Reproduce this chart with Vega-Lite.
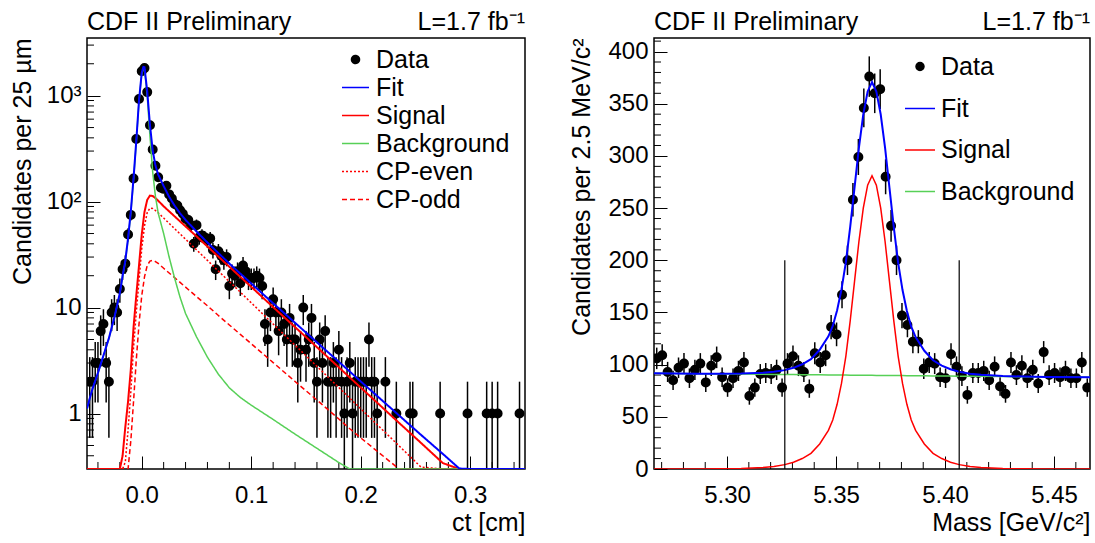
{
  "$schema": "https://vega.github.io/schema/vega-lite/v6.json",
  "padding": {"left": 9, "top": 9, "right": 4, "bottom": 4},
  "background": "white",
  "spacing": 129,
  "bounds": "flush",
  "resolve": {
    "scale": {"x": "independent", "y": "independent", "fill": "independent", "stroke": "independent", "shape": "independent", "size": "independent", "strokeDash": "independent"},
    "legend": {"fill": "independent", "stroke": "independent", "shape": "independent", "size": "independent", "strokeDash": "independent"}
  },
  "config": {
    "font": "Liberation Sans",
    "view": {"stroke": "black", "strokeWidth": 1.5},
    "axis": {"domain": false, "grid": false, "labelFontSize": 24, "labelColor": "black", "labelFont": "Liberation Sans", "titleFont": "Liberation Sans", "titleFontSize": 25, "titleFontWeight": "normal", "titleColor": "black", "tickColor": "black", "tickWidth": 1, "labelFlush": false, "labelOverlap": false},
    "legend": {"labelFont": "Liberation Sans", "labelFontSize": 25, "labelColor": "black"}
  },
  "datasets": {
    "ctdata": [
      {"ct":-0.0475,"n":2,"err":1.41},{"ct":-0.045,"n":2,"err":1.41},{"ct":-0.0425,"n":3,"err":1.73},{"ct":-0.04,"n":3,"err":1.73},
      {"ct":-0.0375,"n":6,"err":2.45},{"ct":-0.035,"n":7,"err":2.65},{"ct":-0.0325,"n":3,"err":1.73},{"ct":-0.03,"n":2,"err":1.41},
      {"ct":-0.0275,"n":9,"err":3},{"ct":-0.025,"n":10,"err":3.16},{"ct":-0.0225,"n":9,"err":3},{"ct":-0.02,"n":15,"err":3.87},
      {"ct":-0.0175,"n":23,"err":4.8},{"ct":-0.015,"n":26,"err":5.1},{"ct":-0.0125,"n":49,"err":7},{"ct":-0.01,"n":75,"err":8.66},
      {"ct":-0.0075,"n":165,"err":12.85},{"ct":-0.005,"n":390,"err":19.75},{"ct":-0.0025,"n":930,"err":30.5},{"ct":0,"n":1700,"err":41.23},
      {"ct":0.0025,"n":1820,"err":42.66},{"ct":0.005,"n":1080,"err":32.86},{"ct":0.0075,"n":525,"err":22.91},{"ct":0.01,"n":310,"err":17.61},
      {"ct":0.0125,"n":218,"err":14.76},{"ct":0.015,"n":170,"err":13.04},{"ct":0.0175,"n":135,"err":11.62},{"ct":0.02,"n":132,"err":11.49},
      {"ct":0.0225,"n":141,"err":11.87},{"ct":0.025,"n":117,"err":10.82},{"ct":0.0275,"n":107,"err":10.34},{"ct":0.03,"n":95,"err":9.75},
      {"ct":0.0325,"n":92,"err":9.59},{"ct":0.035,"n":83,"err":9.11},{"ct":0.0375,"n":77,"err":8.77},{"ct":0.04,"n":69,"err":8.31},
      {"ct":0.0425,"n":67,"err":8.19},{"ct":0.045,"n":60,"err":7.75},{"ct":0.0475,"n":40,"err":6.32},{"ct":0.05,"n":60,"err":7.75},
      {"ct":0.0525,"n":46,"err":6.78},{"ct":0.055,"n":48,"err":6.93},{"ct":0.0575,"n":46,"err":6.78},{"ct":0.06,"n":43,"err":6.56},
      {"ct":0.0625,"n":45,"err":6.71},{"ct":0.065,"n":35,"err":5.92},{"ct":0.0675,"n":23,"err":4.8},{"ct":0.07,"n":34,"err":5.83},
      {"ct":0.0725,"n":31,"err":5.57},{"ct":0.075,"n":28,"err":5.29},{"ct":0.0775,"n":30,"err":5.48},{"ct":0.08,"n":16,"err":4},
      {"ct":0.0825,"n":21,"err":4.58},{"ct":0.085,"n":20,"err":4.47},{"ct":0.0875,"n":22,"err":4.69},{"ct":0.09,"n":17,"err":4.12},
      {"ct":0.0925,"n":25,"err":5},{"ct":0.095,"n":22,"err":4.69},{"ct":0.0975,"n":19,"err":4.36},{"ct":0.1,"n":19,"err":4.36},
      {"ct":0.1025,"n":19,"err":4.36},{"ct":0.105,"n":20,"err":4.47},{"ct":0.1075,"n":19,"err":4.36},{"ct":0.11,"n":16,"err":4},
      {"ct":0.1125,"n":7,"err":2.65},{"ct":0.115,"n":5,"err":2.24},{"ct":0.1175,"n":9,"err":3},{"ct":0.12,"n":12,"err":3.46},
      {"ct":0.1225,"n":9,"err":3},{"ct":0.125,"n":6,"err":2.45},{"ct":0.1275,"n":9,"err":3},{"ct":0.13,"n":7,"err":2.65},
      {"ct":0.1325,"n":5,"err":2.24},{"ct":0.135,"n":8,"err":2.83},{"ct":0.1375,"n":5,"err":2.24},{"ct":0.14,"n":5,"err":2.24},
      {"ct":0.1425,"n":3,"err":1.73},{"ct":0.145,"n":4,"err":2},{"ct":0.1475,"n":10,"err":3.16},{"ct":0.15,"n":4,"err":2},
      {"ct":0.1525,"n":5,"err":2.24},{"ct":0.155,"n":8,"err":2.83},{"ct":0.1575,"n":3,"err":1.73},{"ct":0.16,"n":2,"err":1.41},
      {"ct":0.1625,"n":5,"err":2.24},{"ct":0.165,"n":3,"err":1.73},{"ct":0.1675,"n":6,"err":2.45},{"ct":0.17,"n":2,"err":1.41},
      {"ct":0.1725,"n":2,"err":1.41},{"ct":0.175,"n":3,"err":1.73},{"ct":0.1775,"n":2,"err":1.41},{"ct":0.18,"n":4,"err":2},
      {"ct":0.1825,"n":2,"err":1.41},{"ct":0.185,"n":1,"err":1},{"ct":0.1875,"n":2,"err":1.41},{"ct":0.19,"n":3,"err":1.73},
      {"ct":0.1925,"n":1,"err":1},{"ct":0.195,"n":2,"err":1.41},{"ct":0.1975,"n":2,"err":1.41},{"ct":0.2,"n":2,"err":1.41},
      {"ct":0.2025,"n":2,"err":1.41},{"ct":0.205,"n":2,"err":1.41},{"ct":0.2075,"n":5,"err":2.24},{"ct":0.21,"n":2,"err":1.41},
      {"ct":0.2125,"n":2,"err":1.41},{"ct":0.215,"n":1,"err":1},{"ct":0.2225,"n":2,"err":1.41},{"ct":0.2325,"n":1,"err":1},
      {"ct":0.245,"n":1,"err":1},{"ct":0.2475,"n":1,"err":1},{"ct":0.2725,"n":1,"err":1},{"ct":0.2975,"n":1,"err":1},
      {"ct":0.315,"n":1,"err":1},{"ct":0.32,"n":1,"err":1},{"ct":0.325,"n":1,"err":1},{"ct":0.345,"n":1,"err":1}
    ],
    "ctcurve": [
      {"ct":-0.05,"S":0.01,"E":0.01,"O":0.01,"B":1.1,"F":1.11},
      {"ct":-0.0475,"S":0.01,"E":0.01,"O":0.01,"B":1.38,"F":1.39},
      {"ct":-0.045,"S":0.01,"E":0.01,"O":0.01,"B":1.7,"F":1.71},
      {"ct":-0.04,"S":0.02,"E":0.01,"O":0.01,"B":2.4,"F":2.42},
      {"ct":-0.035,"S":0.03,"E":0.01,"O":0.01,"B":3.5,"F":3.53},
      {"ct":-0.03,"S":0.05,"E":0.02,"O":0.01,"B":5.1,"F":5.15},
      {"ct":-0.025,"S":0.1,"E":0.04,"O":0.02,"B":8,"F":8.1},
      {"ct":-0.02,"S":0.2,"E":0.1,"O":0.04,"B":13.5,"F":13.7},
      {"ct":-0.0175,"S":0.4,"E":0.18,"O":0.07,"B":19.5,"F":19.9},
      {"ct":-0.015,"S":0.75,"E":0.35,"O":0.12,"B":27,"F":27.75},
      {"ct":-0.0125,"S":1.3,"E":0.7,"O":0.25,"B":44,"F":45.3},
      {"ct":-0.01,"S":2.6,"E":1.6,"O":0.55,"B":78,"F":80.6},
      {"ct":-0.0075,"S":6.5,"E":4.2,"O":1.3,"B":160,"F":166.5},
      {"ct":-0.005,"S":13,"E":9,"O":3.2,"B":360,"F":373},
      {"ct":-0.0025,"S":25,"E":18,"O":7,"B":880,"F":905},
      {"ct":0,"S":49,"E":36,"O":13,"B":1600,"F":1649},
      {"ct":0.0015,"S":66,"E":48,"O":16.5,"B":1800,"F":1866},
      {"ct":0.0025,"S":80,"E":59,"O":19.5,"B":1770,"F":1850},
      {"ct":0.005,"S":104,"E":79,"O":25,"B":995,"F":1099},
      {"ct":0.0075,"S":114,"E":87,"O":27.5,"B":415,"F":529},
      {"ct":0.01,"S":113,"E":86,"O":28,"B":190,"F":303},
      {"ct":0.0125,"S":108,"E":82.5,"O":27.2,"B":112,"F":220},
      {"ct":0.015,"S":102,"E":78.5,"O":26.1,"B":78,"F":180},
      {"ct":0.02,"S":90.4,"E":70,"O":23.5,"B":50,"F":140.4},
      {"ct":0.025,"S":81,"E":62.4,"O":21.2,"B":30,"F":111},
      {"ct":0.03,"S":72.6,"E":55.6,"O":19.2,"B":19,"F":91.6},
      {"ct":0.035,"S":65.1,"E":49.6,"O":17.3,"B":12.5,"F":77.6},
      {"ct":0.04,"S":58.4,"E":44.2,"O":15.6,"B":8.8,"F":67.2},
      {"ct":0.05,"S":47,"E":35.1,"O":12.7,"B":5.3,"F":52.3},
      {"ct":0.06,"S":37.7,"E":27.9,"O":10.4,"B":3.4,"F":41.1},
      {"ct":0.07,"S":30.3,"E":22.1,"O":8.42,"B":2.35,"F":32.65},
      {"ct":0.08,"S":24.3,"E":17.6,"O":6.86,"B":1.75,"F":26.05},
      {"ct":0.09,"S":19.5,"E":14,"O":5.59,"B":1.42,"F":20.92},
      {"ct":0.1,"S":15.7,"E":11.1,"O":4.56,"B":1.2,"F":16.9},
      {"ct":0.12,"S":10.1,"E":7,"O":3.03,"B":0.88,"F":10.98},
      {"ct":0.14,"S":6.55,"E":4.42,"O":2.01,"B":0.64,"F":7.19},
      {"ct":0.16,"S":4.23,"E":2.79,"O":1.34,"B":0.47,"F":4.7},
      {"ct":0.18,"S":2.73,"E":1.76,"O":0.89,"B":0.345,"F":3.08},
      {"ct":0.19,"S":2.19,"E":1.4,"O":0.72,"B":0.3,"F":2.49},
      {"ct":0.2,"S":1.76,"E":1.11,"O":0.59,"B":0.25,"F":2.01},
      {"ct":0.235,"S":0.817,"E":0.496,"O":0.287,"B":0.14,"F":0.96},
      {"ct":0.25,"S":0.59,"E":0.351,"O":0.21,"B":0.11,"F":0.7},
      {"ct":0.255,"S":0.529,"E":0.313,"O":0.19,"B":0.1,"F":0.63},
      {"ct":0.275,"S":0.341,"E":0.197,"O":0.126,"B":0.075,"F":0.416},
      {"ct":0.29,"S":0.245,"E":0.139,"O":0.093,"B":0.058,"F":0.303},
      {"ct":0.3,"S":0.198,"E":0.111,"O":0.076,"B":0.05,"F":0.248},
      {"ct":0.35,"S":0.066,"E":0.035,"O":0.027,"B":0.02,"F":0.086}
    ],
    "mdata": [
      {"m":5.26775,"n":106,"err":10.3},{"m":5.27025,"n":109,"err":10.44},{"m":5.27275,"n":93,"err":9.64},{"m":5.27525,"n":85,"err":9.22},
      {"m":5.27775,"n":97,"err":9.85},{"m":5.28025,"n":101,"err":10.05},{"m":5.28275,"n":87,"err":9.33},{"m":5.28525,"n":95,"err":9.75},
      {"m":5.28775,"n":101,"err":10.05},{"m":5.29025,"n":83,"err":9.11},{"m":5.29275,"n":99,"err":9.95},{"m":5.29525,"n":107,"err":10.34},
      {"m":5.29775,"n":88,"err":9.38},{"m":5.30025,"n":78,"err":8.83},{"m":5.30275,"n":87,"err":9.33},{"m":5.30525,"n":94,"err":9.7},
      {"m":5.30775,"n":102,"err":10.1},{"m":5.31025,"n":70,"err":8.37},{"m":5.31275,"n":78,"err":8.83},{"m":5.31525,"n":91,"err":9.54},
      {"m":5.31775,"n":92,"err":9.59},{"m":5.32025,"n":91,"err":9.54},{"m":5.32275,"n":95,"err":9.75},{"m":5.32525,"n":78,"err":8.83},
      {"m":5.32775,"n":101,"err":10.05},{"m":5.33025,"n":108,"err":10.39},{"m":5.33275,"n":99,"err":9.95},{"m":5.33525,"n":93,"err":9.64},
      {"m":5.33775,"n":77,"err":8.77},{"m":5.34025,"n":111,"err":10.54},{"m":5.34275,"n":102,"err":10.1},{"m":5.34525,"n":109,"err":10.44},
      {"m":5.34775,"n":136,"err":11.66},{"m":5.35025,"n":129,"err":11.36},{"m":5.35275,"n":167,"err":12.92},{"m":5.35525,"n":200,"err":14.14},
      {"m":5.35775,"n":258,"err":16.06},{"m":5.36025,"n":299,"err":17.29},{"m":5.36275,"n":346,"err":18.6},{"m":5.36525,"n":376,"err":19.39},
      {"m":5.36775,"n":360,"err":18.97},{"m":5.37025,"n":364,"err":19.08},{"m":5.37275,"n":280,"err":16.73},{"m":5.37525,"n":233,"err":15.26},
      {"m":5.37775,"n":200,"err":14.14},{"m":5.38025,"n":147,"err":12.12},{"m":5.38275,"n":138,"err":11.75},{"m":5.38525,"n":122,"err":11.05},
      {"m":5.38775,"n":122,"err":11.05},{"m":5.39025,"n":96,"err":9.8},{"m":5.39275,"n":102,"err":10.1},{"m":5.39525,"n":101,"err":10.05},
      {"m":5.39775,"n":88,"err":9.38},{"m":5.40025,"n":87,"err":9.33},{"m":5.40275,"n":110,"err":10.49},{"m":5.40525,"n":98,"err":9.9},
      {"m":5.40775,"n":89,"err":9.43},{"m":5.41025,"n":71,"err":8.43},{"m":5.41275,"n":92,"err":9.59},{"m":5.41525,"n":92,"err":9.59},
      {"m":5.41775,"n":94,"err":9.7},{"m":5.42025,"n":85,"err":9.22},{"m":5.42275,"n":98,"err":9.9},{"m":5.42525,"n":79,"err":8.89},
      {"m":5.42775,"n":72,"err":8.49},{"m":5.43025,"n":102,"err":10.1},{"m":5.43275,"n":90,"err":9.49},{"m":5.43525,"n":99,"err":9.95},
      {"m":5.43775,"n":87,"err":9.33},{"m":5.44025,"n":95,"err":9.75},{"m":5.44275,"n":82,"err":9.06},{"m":5.44525,"n":112,"err":10.58},
      {"m":5.44775,"n":90,"err":9.49},{"m":5.45025,"n":92,"err":9.59},{"m":5.45275,"n":88,"err":9.38},{"m":5.45525,"n":94,"err":9.7},
      {"m":5.45775,"n":87,"err":9.33},{"m":5.46025,"n":87,"err":9.33},{"m":5.46275,"n":102,"err":10.1},{"m":5.46525,"n":78,"err":8.83}
    ],
    "mcurve": [
      {"m":5.2665,"S":0,"B":91.7,"F":91.7},{"m":5.2865,"S":0.05,"B":91.31,"F":91.36},{"m":5.2965,"S":0.2,"B":91.12,"F":91.32},
      {"m":5.3065,"S":0.5,"B":90.92,"F":91.42},{"m":5.3165,"S":1.5,"B":90.73,"F":92.23},{"m":5.3215,"S":2.5,"B":90.63,"F":93.13},
      {"m":5.3265,"S":4.2,"B":90.53,"F":94.73},{"m":5.3305,"S":6.5,"B":90.46,"F":96.96},{"m":5.3345,"S":10,"B":90.38,"F":100.38},
      {"m":5.3385,"S":15,"B":90.3,"F":105.3},{"m":5.3425,"S":24,"B":90.22,"F":114.22},{"m":5.3465,"S":37,"B":90.14,"F":127.14},
      {"m":5.3485,"S":47,"B":90.1,"F":137.1},{"m":5.3505,"S":62,"B":90.07,"F":152.07},{"m":5.3525,"S":82,"B":90.03,"F":172.03},
      {"m":5.3545,"S":108,"B":89.99,"F":197.99},{"m":5.3565,"S":142,"B":89.95,"F":231.95},{"m":5.3585,"S":180,"B":89.91,"F":269.91},
      {"m":5.3605,"S":218,"B":89.87,"F":307.87},{"m":5.3625,"S":250,"B":89.83,"F":339.83},{"m":5.3645,"S":272,"B":89.79,"F":361.79},
      {"m":5.3665,"S":281,"B":89.75,"F":370.75},{"m":5.3685,"S":272,"B":89.71,"F":361.71},{"m":5.3705,"S":250,"B":89.67,"F":339.67},
      {"m":5.3725,"S":218,"B":89.63,"F":307.63},{"m":5.3745,"S":180,"B":89.59,"F":269.59},{"m":5.3765,"S":142,"B":89.55,"F":231.55},
      {"m":5.3785,"S":108,"B":89.52,"F":197.52},{"m":5.3805,"S":82,"B":89.48,"F":171.48},{"m":5.3825,"S":62,"B":89.44,"F":151.44},
      {"m":5.3845,"S":47,"B":89.4,"F":136.4},{"m":5.3865,"S":37,"B":89.36,"F":126.36},{"m":5.3905,"S":24,"B":89.28,"F":113.28},
      {"m":5.3945,"S":15,"B":89.2,"F":104.2},{"m":5.3985,"S":10,"B":89.13,"F":99.13},{"m":5.4025,"S":6.5,"B":89.05,"F":95.55},
      {"m":5.4065,"S":4.2,"B":88.97,"F":93.17},{"m":5.4115,"S":2.5,"B":88.87,"F":91.37},{"m":5.4165,"S":1.5,"B":88.78,"F":90.28},
      {"m":5.4265,"S":0.5,"B":88.58,"F":89.08},{"m":5.4365,"S":0.2,"B":88.39,"F":88.59},{"m":5.4465,"S":0.05,"B":88.19,"F":88.24},
      {"m":5.4665,"S":0,"B":87.8,"F":87.8}
    ],
    "mlines": [
      {"m":5.3265,"lo":0,"hi":200},{"m":5.4065,"lo":0,"hi":200}
    ],
    "ctminy": [{"v":0.4},{"v":0.5},{"v":0.6},{"v":0.7},{"v":0.8},{"v":0.9},{"v":2},{"v":3},{"v":4},{"v":5},{"v":6},{"v":7},{"v":8},{"v":9},{"v":20},{"v":30},{"v":40},{"v":50},{"v":60},{"v":70},{"v":80},{"v":90},{"v":200},{"v":300},{"v":400},{"v":500},{"v":600},{"v":700},{"v":800},{"v":900},{"v":2000},{"v":3000}],
    "ctminx": [{"v":-0.04},{"v":-0.02},{"v":0.02},{"v":0.04},{"v":0.06},{"v":0.08},{"v":0.12},{"v":0.14},{"v":0.16},{"v":0.18},{"v":0.22},{"v":0.24},{"v":0.26},{"v":0.28},{"v":0.32},{"v":0.34}],
    "mminy": [{"v":10},{"v":20},{"v":30},{"v":40},{"v":60},{"v":70},{"v":80},{"v":90},{"v":110},{"v":120},{"v":130},{"v":140},{"v":160},{"v":170},{"v":180},{"v":190},{"v":210},{"v":220},{"v":230},{"v":240},{"v":260},{"v":270},{"v":280},{"v":290},{"v":310},{"v":320},{"v":330},{"v":340},{"v":360},{"v":370},{"v":380},{"v":390},{"v":410}],
    "mminx": [{"v":5.27},{"v":5.28},{"v":5.29},{"v":5.31},{"v":5.32},{"v":5.33},{"v":5.34},{"v":5.36},{"v":5.37},{"v":5.38},{"v":5.39},{"v":5.41},{"v":5.42},{"v":5.43},{"v":5.44},{"v":5.46}]
  },
  "hconcat": [
    {
      "width": 438,
      "height": 431,
      "layer": [
        {
          "data": {"name": "ctdata"},
          "mark": {"type": "errorbar", "color": "black", "thickness": 1.5, "clip": true},
          "encoding": {
            "x": {"field": "ct", "type": "quantitative",
              "scale": {"domain": [-0.05, 0.35], "nice": false, "zero": false},
              "axis": {"title": "ct [cm]", "titleAnchor": "end", "titleY": 41, "labelOverlap": false,
                "values": [0, 0.1, 0.2, 0.3], "format": ".1f", "tickSize": -13, "labelPadding": 27}},
            "y": {"field": "n", "type": "quantitative",
              "scale": {"type": "log", "domain": [0.3, 3500], "nice": false, "clamp": true},
              "axis": {"title": "Candidates per 25 µm", "titleAnchor": "end", "titleX": -52, "labelOverlap": false,
                "values": [1, 10, 100, 1000],
                "labelExpr": "datum.value === 1 ? '1' : datum.value === 10 ? '10' : datum.value === 100 ? '10²' : '10³'",
                "tickSize": -13, "labelPadding": 19}},
            "yError": {"field": "err"}
          }
        },
        {
          "data": {"name": "ctminy"},
          "mark": {"type": "rule", "color": "black", "strokeWidth": 1},
          "encoding": {"x": {"datum": -0.05, "type": "quantitative", "axis": {"labelOverlap": false}}, "x2": {"datum": -0.04361}, "y": {"field": "v", "type": "quantitative", "axis": {"labelOverlap": false}}}
        },
        {
          "data": {"name": "ctminx"},
          "mark": {"type": "rule", "color": "black", "strokeWidth": 1},
          "encoding": {"x": {"field": "v", "type": "quantitative", "axis": {"labelOverlap": false}}, "y": {"datum": 0.3, "type": "quantitative", "axis": {"labelOverlap": false}}, "y2": {"datum": 0.3493}}
        },
        {
          "data": {"name": "ctdata"},
          "mark": {"type": "point", "filled": true, "opacity": 1, "clip": true},
          "encoding": {
            "x": {"field": "ct", "type": "quantitative", "axis": {"labelOverlap": false}},
            "y": {"field": "n", "type": "quantitative", "axis": {"labelOverlap": false}},
            "fill": {"datum": "Data",
              "scale": {"domain": ["Data","Fit","Signal","Background","CP-even","CP-odd"], "range": ["black","#0000ff","#ff0000","#57d057","#ff0000","#ff0000"]},
              "legend": {"orient": "none", "legendX": 254, "legendY": 9, "title": null, "rowPadding": 0, "labelOffset": 6, "symbolStrokeWidth": 1.5}},
            "stroke": {"datum": "Data",
              "scale": {"domain": ["Data","Fit","Signal","Background","CP-even","CP-odd"], "range": ["black","#0000ff","#ff0000","#57d057","#ff0000","#ff0000"]},
              "legend": {"orient": "none", "legendX": 254, "legendY": 9, "title": null, "rowPadding": 0, "labelOffset": 6, "symbolStrokeWidth": 1.5}},
            "shape": {"datum": "Data",
              "scale": {"domain": ["Data","Fit","Signal","Background","CP-even","CP-odd"], "range": ["circle","stroke","stroke","stroke","stroke","stroke"]},
              "legend": {"orient": "none", "legendX": 254, "legendY": 9, "title": null, "rowPadding": 0, "labelOffset": 6, "symbolStrokeWidth": 1.5}},
            "size": {"datum": "Data",
              "scale": {"type": "ordinal", "domain": ["Data","Fit","Signal","Background","CP-even","CP-odd"], "range": [64, 729, 729, 729, 729, 729]},
              "legend": {"orient": "none", "legendX": 254, "legendY": 9, "title": null, "rowPadding": 0, "labelOffset": 6, "symbolStrokeWidth": 1.5}}
          }
        },
        {
          "data": {"name": "ctcurve"},
          "mark": {"type": "line", "strokeWidth": 1.5, "clip": true},
          "encoding": {"x": {"field": "ct", "type": "quantitative", "axis": {"labelOverlap": false}}, "y": {"field": "E", "type": "quantitative", "axis": {"labelOverlap": false}},
            "stroke": {"datum": "CP-even"},
            "strokeDash": {"datum": "CP-even",
              "scale": {"domain": ["Data","Fit","Signal","Background","CP-even","CP-odd"], "range": [[1,0],[1,0],[1,0],[1,0],[2,2],[5,3]]},
              "legend": {"orient": "none", "legendX": 254, "legendY": 9, "title": null, "rowPadding": 0, "labelOffset": 6, "symbolStrokeWidth": 1.5}}}
        },
        {
          "data": {"name": "ctcurve"},
          "mark": {"type": "line", "strokeWidth": 1.5, "clip": true},
          "encoding": {"x": {"field": "ct", "type": "quantitative", "axis": {"labelOverlap": false}}, "y": {"field": "O", "type": "quantitative", "axis": {"labelOverlap": false}}, "stroke": {"datum": "CP-odd"}, "strokeDash": {"datum": "CP-odd"}}
        },
        {
          "data": {"name": "ctcurve"},
          "mark": {"type": "line", "strokeWidth": 2, "clip": true},
          "encoding": {"x": {"field": "ct", "type": "quantitative", "axis": {"labelOverlap": false}}, "y": {"field": "S", "type": "quantitative", "axis": {"labelOverlap": false}}, "stroke": {"datum": "Signal"}, "strokeDash": {"datum": "Signal"}}
        },
        {
          "data": {"name": "ctcurve"},
          "mark": {"type": "line", "strokeWidth": 1.5, "clip": true},
          "encoding": {"x": {"field": "ct", "type": "quantitative", "axis": {"labelOverlap": false}}, "y": {"field": "B", "type": "quantitative", "axis": {"labelOverlap": false}}, "stroke": {"datum": "Background"}, "strokeDash": {"datum": "Background"}}
        },
        {
          "data": {"name": "ctcurve"},
          "mark": {"type": "line", "strokeWidth": 2, "clip": true},
          "encoding": {"x": {"field": "ct", "type": "quantitative", "axis": {"labelOverlap": false}}, "y": {"field": "F", "type": "quantitative", "axis": {"labelOverlap": false}}, "stroke": {"datum": "Fit"}, "strokeDash": {"datum": "Fit"}}
        },
        {
          "data": {"values": [{}]},
          "mark": {"type": "text", "align": "left", "baseline": "alphabetic", "dy": -8, "fontSize": 25, "color": "black", "font": "Liberation Sans"},
          "encoding": {"x": {"datum": -0.05, "type": "quantitative", "axis": {"labelOverlap": false}}, "y": {"datum": 3500, "type": "quantitative", "axis": {"labelOverlap": false}}, "text": {"value": "CDF II Preliminary"}}
        },
        {
          "data": {"values": [{}]},
          "mark": {"type": "text", "align": "right", "baseline": "alphabetic", "dy": -8, "fontSize": 25, "color": "black", "font": "Liberation Sans"},
          "encoding": {"x": {"datum": 0.35, "type": "quantitative", "axis": {"labelOverlap": false}}, "y": {"datum": 3500, "type": "quantitative", "axis": {"labelOverlap": false}}, "text": {"value": "L=1.7 fb⁻¹"}}
        }
      ]
    },
    {
      "width": 436,
      "height": 431,
      "layer": [
        {
          "data": {"name": "mdata"},
          "mark": {"type": "errorbar", "color": "black", "thickness": 1.5, "clip": true},
          "encoding": {
            "x": {"field": "m", "type": "quantitative",
              "scale": {"domain": [5.2665, 5.4665], "nice": false, "zero": false},
              "axis": {"title": "Mass [GeV/c²]", "titleAnchor": "end", "titleY": 41, "labelOverlap": false,
                "values": [5.3, 5.35, 5.4, 5.45], "format": ".2f", "tickSize": -13, "labelPadding": 27}},
            "y": {"field": "n", "type": "quantitative",
              "scale": {"domain": [0, 413], "nice": false, "zero": true},
              "axis": {"title": "Candidates per 2.5 MeV/c²", "titleAnchor": "end", "titleX": -60, "labelOverlap": false,
                "values": [0, 50, 100, 150, 200, 250, 300, 350, 400], "format": "d", "tickSize": -13, "labelPadding": 19}},
            "yError": {"field": "err"}
          }
        },
        {
          "data": {"name": "mminy"},
          "mark": {"type": "rule", "color": "black", "strokeWidth": 1},
          "encoding": {"x": {"datum": 5.2665, "type": "quantitative", "axis": {"labelOverlap": false}}, "x2": {"datum": 5.26971}, "y": {"field": "v", "type": "quantitative", "axis": {"labelOverlap": false}}}
        },
        {
          "data": {"name": "mminx"},
          "mark": {"type": "rule", "color": "black", "strokeWidth": 1},
          "encoding": {"x": {"field": "v", "type": "quantitative", "axis": {"labelOverlap": false}}, "y": {"datum": 0, "type": "quantitative", "axis": {"labelOverlap": false}}, "y2": {"datum": 6.7}}
        },
        {
          "data": {"name": "mdata"},
          "mark": {"type": "point", "filled": true, "opacity": 1, "clip": true},
          "encoding": {
            "x": {"field": "m", "type": "quantitative", "axis": {"labelOverlap": false}},
            "y": {"field": "n", "type": "quantitative", "axis": {"labelOverlap": false}},
            "fill": {"datum": "Data",
              "scale": {"domain": ["Data","Fit","Signal","Background"], "range": ["black","#0000ff","#ff0000","#57d057"]},
              "legend": {"orient": "none", "legendX": 250, "legendY": 16, "title": null, "rowPadding": 12.5, "labelOffset": 5, "symbolStrokeWidth": 1.5}},
            "stroke": {"datum": "Data",
              "scale": {"domain": ["Data","Fit","Signal","Background"], "range": ["black","#0000ff","#ff0000","#57d057"]},
              "legend": {"orient": "none", "legendX": 250, "legendY": 16, "title": null, "rowPadding": 12.5, "labelOffset": 5, "symbolStrokeWidth": 1.5}},
            "shape": {"datum": "Data",
              "scale": {"domain": ["Data","Fit","Signal","Background"], "range": ["circle","stroke","stroke","stroke"]},
              "legend": {"orient": "none", "legendX": 250, "legendY": 16, "title": null, "rowPadding": 12.5, "labelOffset": 5, "symbolStrokeWidth": 1.5}},
            "size": {"datum": "Data",
              "scale": {"type": "ordinal", "domain": ["Data","Fit","Signal","Background"], "range": [64, 900, 900, 900]},
              "legend": {"orient": "none", "legendX": 250, "legendY": 16, "title": null, "rowPadding": 12.5, "labelOffset": 5, "symbolStrokeWidth": 1.5}}
          }
        },
        {
          "data": {"name": "mcurve"},
          "mark": {"type": "line", "strokeWidth": 1.5, "clip": true},
          "encoding": {"x": {"field": "m", "type": "quantitative", "axis": {"labelOverlap": false}}, "y": {"field": "B", "type": "quantitative", "axis": {"labelOverlap": false}}, "stroke": {"datum": "Background"}}
        },
        {
          "data": {"name": "mcurve"},
          "mark": {"type": "line", "strokeWidth": 1.5, "clip": true},
          "encoding": {"x": {"field": "m", "type": "quantitative", "axis": {"labelOverlap": false}}, "y": {"field": "S", "type": "quantitative", "axis": {"labelOverlap": false}}, "stroke": {"datum": "Signal"}}
        },
        {
          "data": {"name": "mcurve"},
          "mark": {"type": "line", "strokeWidth": 2, "clip": true},
          "encoding": {"x": {"field": "m", "type": "quantitative", "axis": {"labelOverlap": false}}, "y": {"field": "F", "type": "quantitative", "axis": {"labelOverlap": false}}, "stroke": {"datum": "Fit"}}
        },
        {
          "data": {"name": "mlines"},
          "mark": {"type": "rule", "color": "black", "strokeWidth": 1.2},
          "encoding": {"x": {"field": "m", "type": "quantitative", "axis": {"labelOverlap": false}}, "y": {"field": "lo", "type": "quantitative", "axis": {"labelOverlap": false}}, "y2": {"field": "hi"}}
        },
        {
          "data": {"values": [{}]},
          "mark": {"type": "text", "align": "left", "baseline": "alphabetic", "dy": -8, "fontSize": 25, "color": "black", "font": "Liberation Sans"},
          "encoding": {"x": {"datum": 5.2665, "type": "quantitative", "axis": {"labelOverlap": false}}, "y": {"datum": 413, "type": "quantitative", "axis": {"labelOverlap": false}}, "text": {"value": "CDF II Preliminary"}}
        },
        {
          "data": {"values": [{}]},
          "mark": {"type": "text", "align": "right", "baseline": "alphabetic", "dy": -8, "fontSize": 25, "color": "black", "font": "Liberation Sans"},
          "encoding": {"x": {"datum": 5.4665, "type": "quantitative", "axis": {"labelOverlap": false}}, "y": {"datum": 413, "type": "quantitative", "axis": {"labelOverlap": false}}, "text": {"value": "L=1.7 fb⁻¹"}}
        }
      ]
    }
  ]
}
